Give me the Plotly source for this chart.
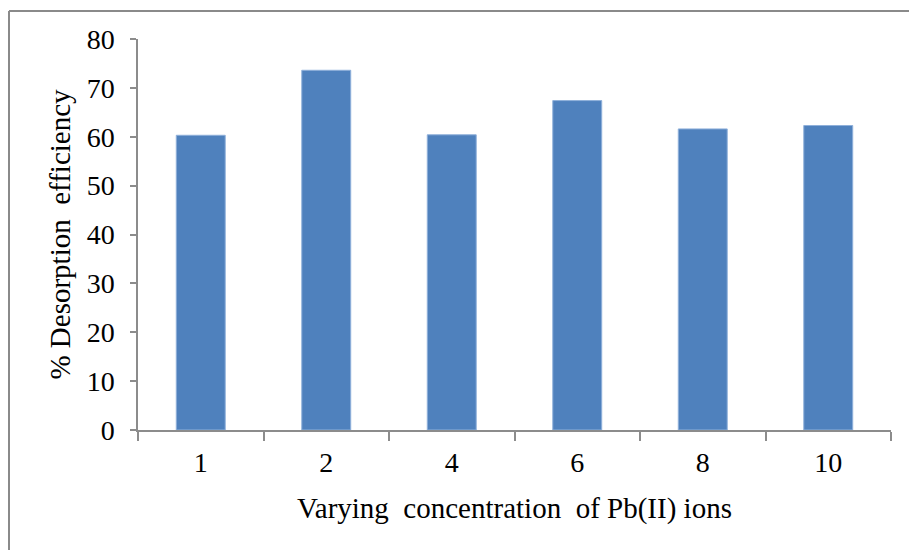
import plotly.graph_objects as go

# Desorption efficiency for each Pb(II) concentration
concentrations = ["1", "2", "4", "6", "8", "10"]
desorption_pct = [60.3, 73.6, 60.4, 67.4, 61.6, 62.3]
y_ticks = [0, 10, 20, 30, 40, 50, 60, 70, 80]

W, H = 909, 550
ML, MR, MT, MB = 138, 18, 39, 120
axis_grey = "#8c8c8c"
serif = "Liberation Serif, Times New Roman, serif"

fig = go.Figure(
    go.Bar(
        x=concentrations,
        y=desorption_pct,
        width=0.39,
        marker=dict(color="#4F81BD", line=dict(color="#8FB0DA", width=1)),
    )
)

plot_w = W - ML - MR
plot_h = H - MT - MB


def px_to_paper_x(px):
    return (px - ML) / plot_w


def px_to_paper_y(py):
    return (H - MB - py) / plot_h


# frame lines along the top and left edge of the chart area
fig.add_shape(type="line", xref="paper", yref="paper",
              x0=px_to_paper_x(9), x1=px_to_paper_x(W + 5),
              y0=px_to_paper_y(11), y1=px_to_paper_y(11),
              line=dict(color="#8a8a8a", width=2))
fig.add_shape(type="line", xref="paper", yref="paper",
              x0=px_to_paper_x(9), x1=px_to_paper_x(9),
              y0=px_to_paper_y(11), y1=px_to_paper_y(H + 5),
              line=dict(color="#8a8a8a", width=2))

fig.update_layout(
    width=W,
    height=H,
    margin=dict(l=ML, r=MR, t=MT, b=MB),
    plot_bgcolor="white",
    paper_bgcolor="white",
    showlegend=False,
    font=dict(family=serif, size=28, color="black"),
    xaxis=dict(
        type="category",
        tickson="boundaries",
        ticks="outside",
        ticklen=9,
        tickcolor=axis_grey,
        tickwidth=1.5,
        showline=True,
        linecolor=axis_grey,
        linewidth=1.5,
        showgrid=False,
        ticklabelstandoff=7,
        tickfont=dict(family=serif, size=28),
        title=dict(text="Varying  concentration  of Pb(II) ions",
                   font=dict(family=serif, size=29), standoff=20),
    ),
    yaxis=dict(
        range=[0, 80],
        tickvals=y_ticks,
        ticks="outside",
        ticklen=6,
        tickcolor=axis_grey,
        tickwidth=1.5,
        showline=True,
        linecolor=axis_grey,
        linewidth=1.5,
        showgrid=False,
        zeroline=False,
        ticklabelstandoff=10,
        tickfont=dict(family=serif, size=28),
        title=dict(text="% Desorption  efficiency",
                   font=dict(family=serif, size=29), standoff=8),
    ),
)

fig.write_html("out.html")
